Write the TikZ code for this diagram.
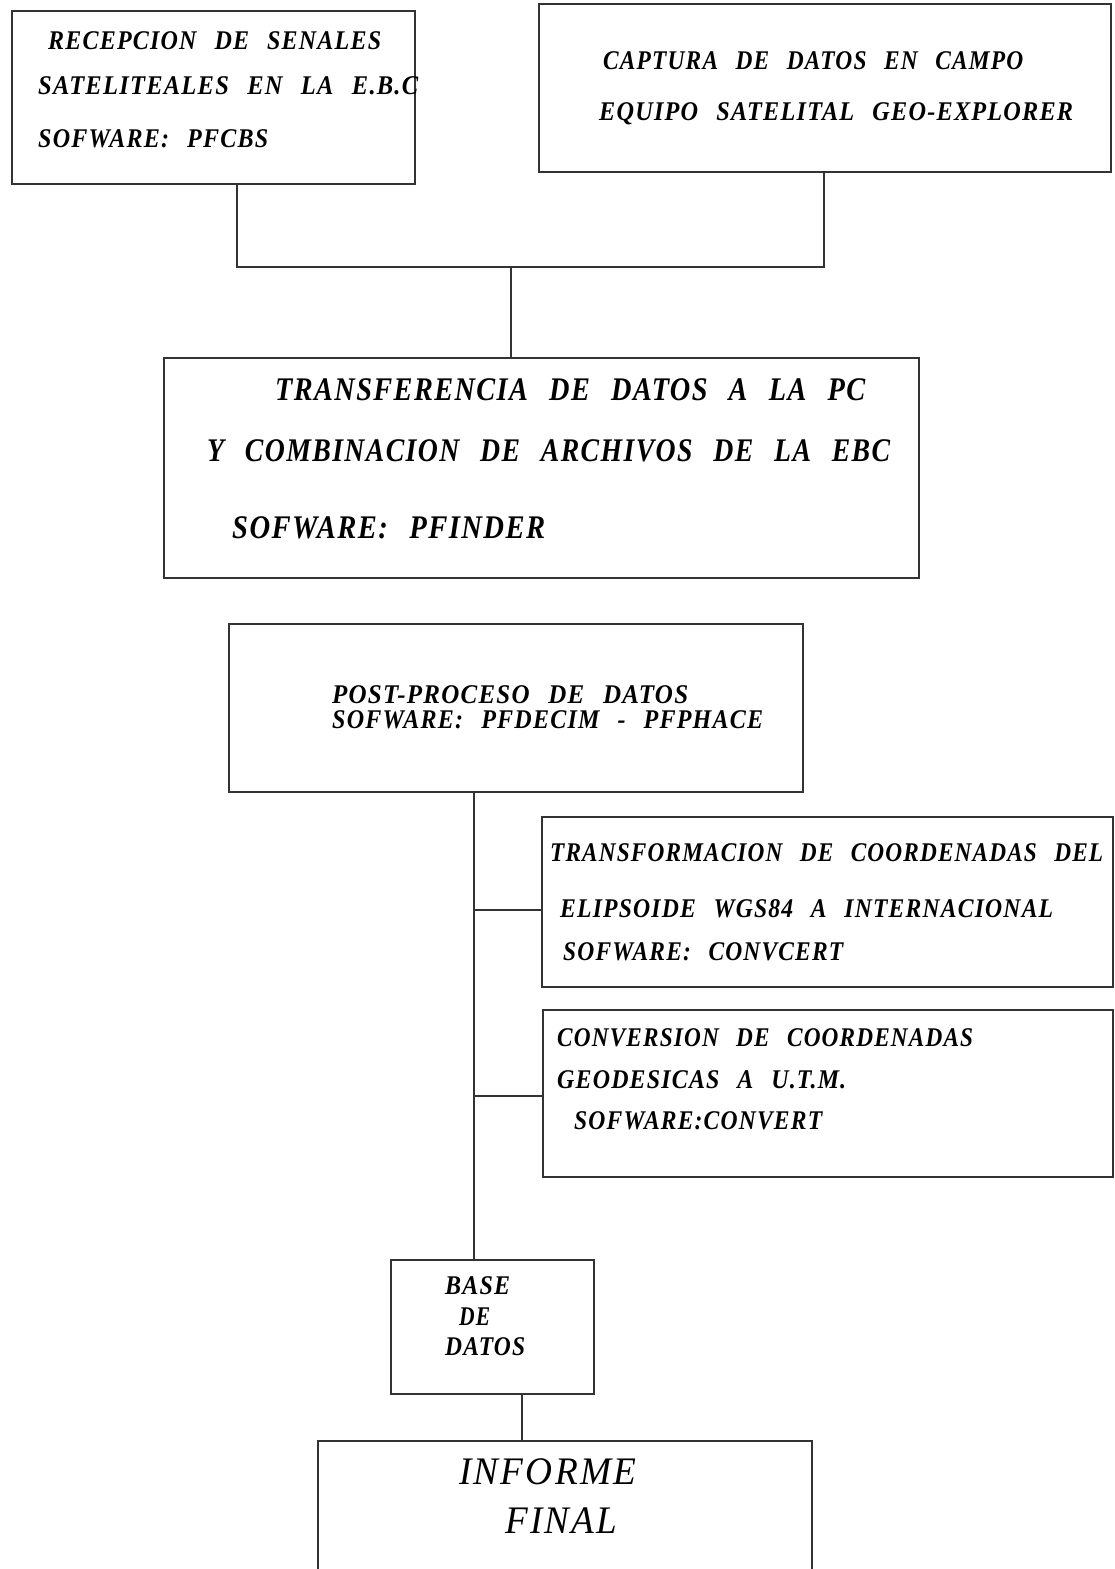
\documentclass[tikz,border=0pt]{standalone}
\usepackage{fontspec}
\setmainfont{Liberation Serif}
\newfontfamily\widefam[WordSpace=2.5,LetterSpace=5]{Liberation Serif}
\newfontfamily\spacedfam[LetterSpace=6]{Liberation Serif}
\usepackage{graphicx}
\newcommand{\fitw}[2]{\resizebox{#1pt}{\height}{#2}}
\tikzset{
  box/.style={draw=black!80, line width=1.6pt, inner sep=0pt, anchor=north west},
  conn/.style={draw=black!80, line width=1.6pt},
  txt/.style={anchor=base west, inner sep=0pt, font=\widefam\fontsize{27}{27}\selectfont\bfseries\itshape},
  bigtxt/.style={anchor=base west, inner sep=0pt, font=\widefam\fontsize{33}{33}\selectfont\bfseries\itshape},
  hugetxt/.style={anchor=base west, inner sep=0pt, font=\spacedfam\fontsize{39}{39}\selectfont\itshape},
}
\begin{document}
\begin{tikzpicture}[x=1pt,y=-1pt]
\useasboundingbox[fill=white] (0,0) rectangle (1114,1569);
\clip (0,0) rectangle (1114,1569);
% boxes
\node[box, minimum width=403pt, minimum height=173pt] (A) at (11,10) {};
\node[box, minimum width=572pt, minimum height=168pt] (B) at (538,3) {};
\node[box, minimum width=755pt, minimum height=220pt] (C) at (163,357) {};
\node[box, minimum width=574pt, minimum height=168pt] (D) at (228,623) {};
\node[box, minimum width=571pt, minimum height=170pt] (E) at (541,816) {};
\node[box, minimum width=570pt, minimum height=167pt] (F) at (542,1009) {};
\node[box, minimum width=203pt, minimum height=134pt] (G) at (390,1259) {};
\node[box, minimum width=494pt, minimum height=150pt] (H) at (317,1440) {};
% connectors
\coordinate (ja) at (237,267);
\coordinate (jb) at (824,267);
\coordinate (jc) at (511,267);
\draw[conn] (ja |- A.south) -- (ja) -- (jb) -- (jb |- B.south);
\draw[conn] (jc) -- (jc |- C.north);
\coordinate (jd) at (474,791);
\coordinate (je) at (474,910);
\coordinate (jf) at (474,1096);
\draw[conn] (jd |- D.south) -- (jd |- G.north);
\draw[conn] (je) -- (je -| E.west);
\draw[conn] (jf) -- (jf -| F.west);
\coordinate (jg) at (522,1400);
\draw[conn] (jg |- G.south) -- (jg |- H.north);
% texts
\node[txt] (a1) at (48,49) {\fitw{333}{RECEPCION DE SENALES}};
\node[txt] (a2) at (38,94) {\fitw{380}{SATELITEALES EN LA E.B.C}};
\node[txt] (a3) at (38,147) {\fitw{230}{SOFWARE: PFCBS}};
\node[txt] (b1) at (603,69) {\fitw{420}{CAPTURA DE DATOS EN CAMPO}};
\node[txt] (b2) at (599,120) {\fitw{474}{EQUIPO SATELITAL GEO-EXPLORER}};
\node[bigtxt] (c1) at (275,400) {\fitw{590}{TRANSFERENCIA DE DATOS A LA PC}};
\node[bigtxt] (c2) at (207,461) {\fitw{683}{Y COMBINACION DE ARCHIVOS DE LA EBC}};
\node[bigtxt] (c3) at (232,538) {\fitw{313}{SOFWARE: PFINDER}};
\node[txt] (d1) at (332,703) {\fitw{356}{POST-PROCESO DE DATOS}};
\node[txt] (d2) at (332,728) {\fitw{431}{SOFWARE: PFDECIM - PFPHACE}};
\node[txt] (e1) at (550,861) {\fitw{553}{TRANSFORMACION DE COORDENADAS DEL}};
\node[txt] (e2) at (560,917) {\fitw{493}{ELIPSOIDE WGS84 A INTERNACIONAL}};
\node[txt] (e3) at (563,960) {\fitw{280}{SOFWARE: CONVCERT}};
\node[txt] (f1) at (557,1046) {\fitw{416}{CONVERSION DE COORDENADAS}};
\node[txt] (f2) at (557,1088) {\fitw{289}{GEODESICAS A U.T.M.}};
\node[txt] (f3) at (574,1129) {\fitw{248}{SOFWARE:CONVERT}};
\node[txt] (g1) at (445,1294) {\fitw{65}{BASE}};
\node[txt] (g2) at (459,1325) {\fitw{31}{DE}};
\node[txt] (g3) at (445,1355) {\fitw{80}{DATOS}};
\node[hugetxt] (h1) at (459,1484) {\fitw{177}{INFORME}};
\node[hugetxt] (h2) at (505,1533) {\fitw{112}{FINAL}};
\end{tikzpicture}
\end{document}
